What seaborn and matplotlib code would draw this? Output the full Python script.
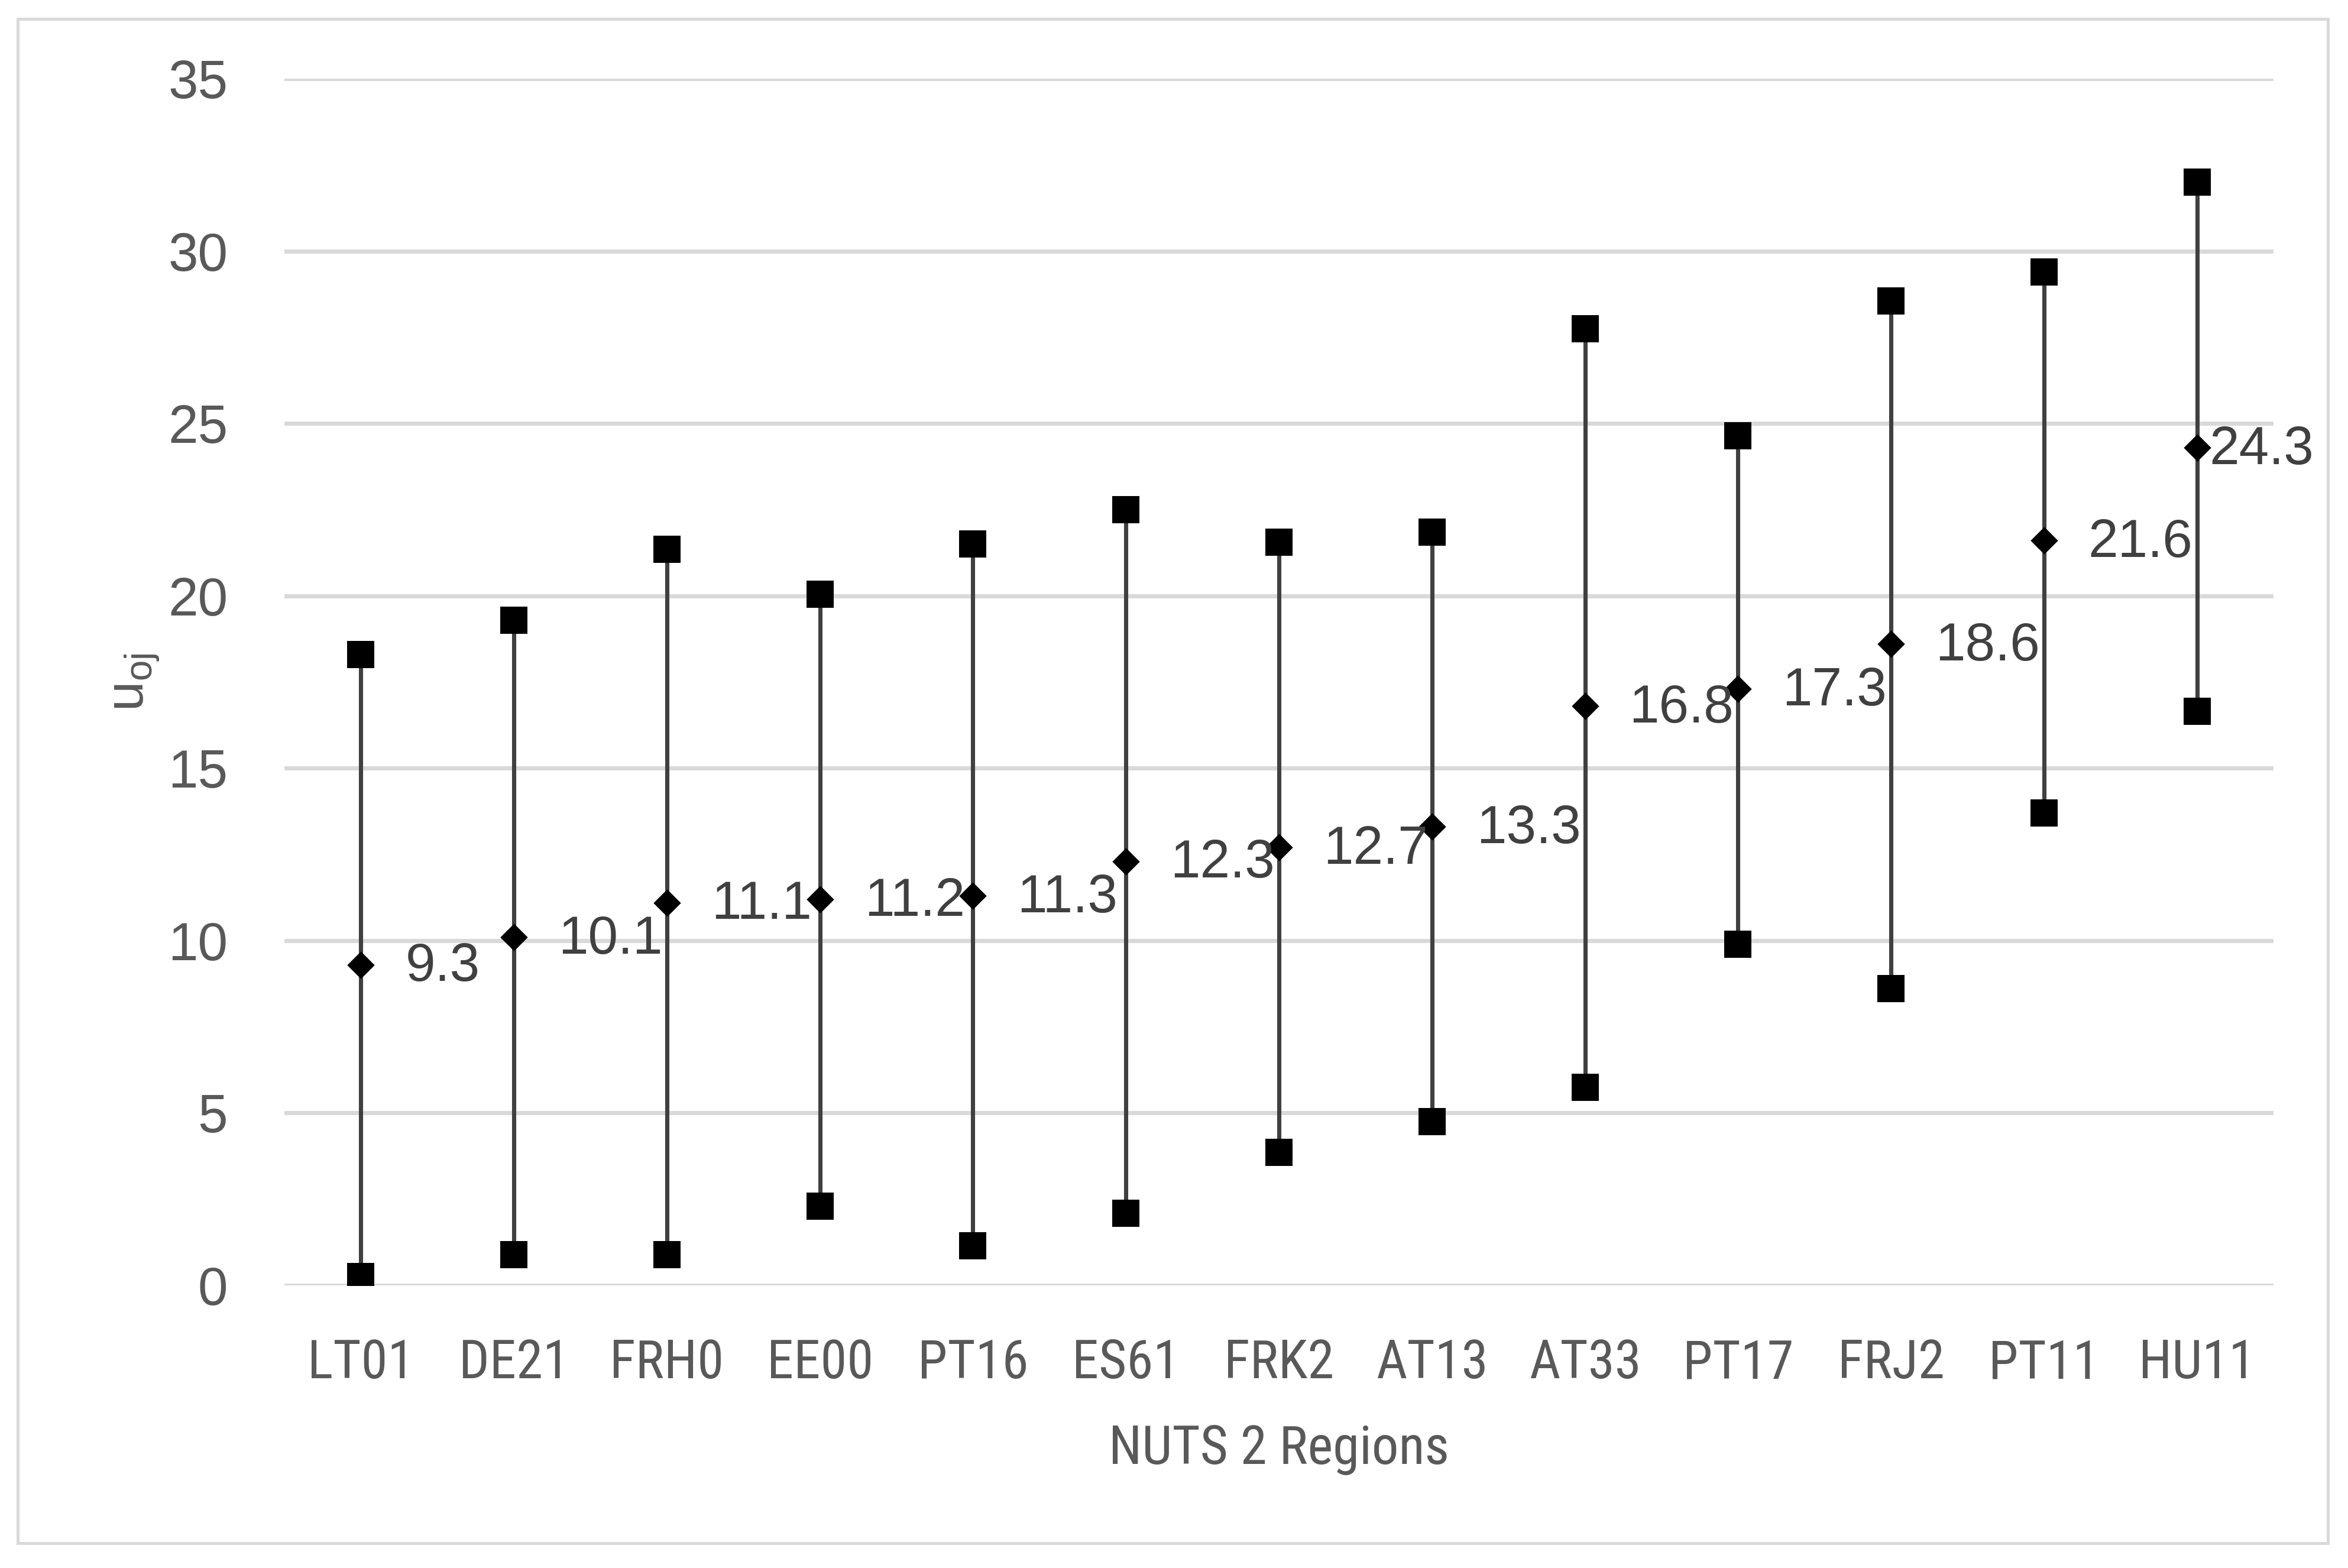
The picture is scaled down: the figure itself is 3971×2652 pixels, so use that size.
import matplotlib
matplotlib.use("Agg")
import matplotlib.pyplot as plt
from matplotlib import font_manager
from matplotlib.font_manager import FontProperties
from matplotlib.patches import Rectangle
import seaborn as sns
import pandas as pd

# ---- data ----
regions = ["LT01", "DE21", "FRH0", "EE00", "PT16", "ES61", "FRK2",
           "AT13", "AT33", "PT17", "FRJ2", "PT11", "HU11"]
upper = [18.3, 19.3, 21.35, 20.05, 21.5, 22.5, 21.55, 21.85, 27.75, 24.65, 28.55, 29.4, 32.0]
lower = [0.25, 0.9, 0.9, 2.3, 1.15, 2.1, 3.85, 4.75, 5.75, 9.9, 8.6, 13.7, 16.65]
mean = [9.3, 10.1, 11.1, 11.2, 11.3, 12.3, 12.7, 13.3, 16.8, 17.3, 18.6, 21.6, 24.3]
yticks = [0, 5, 10, 15, 20, 25, 30, 35]
xlabel = "NUTS 2 Regions"

df = pd.DataFrame({"region": regions, "upper": upper, "lower": lower, "mean": mean})

sns.set_theme(style="white")
ttf = font_manager.fontManager.ttflist
names = {f.name for f in ttf}
base_font = "Liberation Sans" if "Liberation Sans" in names else "DejaVu Sans"
plt.rcParams["font.family"] = [base_font, "DejaVu Sans"]
plt.rcParams["mathtext.fontset"] = "custom"
plt.rcParams["mathtext.rm"] = base_font

FS = 21.8
TICK_C = "#595959"
LABEL_C = "#404040"


def find_narrow():
    prefs = ["LiberationSansNarrow-Regular", "RobotoCondensed-Regular",
             "OpenSans_Condensed-Regular", "NotoSans-Condensed", "DejaVuSansCondensed.ttf"]
    files = [f.fname for f in ttf]
    for p in prefs:
        for fn in files:
            if p.lower() in fn.lower() and "bold" not in fn.lower() and "oblique" not in fn.lower() \
                    and "italic" not in fn.lower():
                return FontProperties(fname=fn, size=FS)
    for f in ttf:
        if f.stretch in ("condensed", "semi-condensed") and f.style == "normal" \
                and f.weight in (400, "normal", "regular"):
            return FontProperties(fname=f.fname, size=FS)
    return FontProperties(family=[base_font], size=FS)


narrow = find_narrow()

fig = plt.figure(figsize=(3971 / 300, 2652 / 300), dpi=300)
ax = fig.add_axes([481 / 3971, 1 - 2174 / 2652, (3845 - 481) / 3971, (2174 - 133) / 2652])

# range lines
xs = list(range(len(regions)))
ax.vlines(xs, df["lower"], df["upper"], color="#404040", lw=1.7, zorder=2)

# markers
sns.scatterplot(data=df, x="region", y="upper", marker="s", s=125, color="black",
                linewidth=0, ax=ax, zorder=3)
sns.scatterplot(data=df, x="region", y="lower", marker="s", s=125, color="black",
                linewidth=0, ax=ax, zorder=3)
sns.scatterplot(data=df, x="region", y="mean", marker="D", s=62, color="black",
                linewidth=0, ax=ax, zorder=4)

# data labels
for i, m in enumerate(mean):
    off = 18 if i < len(mean) - 1 else 5
    ax.annotate(f"{m:.1f}", (i, m), xytext=(off, -1), textcoords="offset points",
                ha="left", va="center", fontsize=FS, color=LABEL_C, zorder=5)

ax.set_xlim(-0.5, len(regions) - 0.5)
ax.set_ylim(0, 35)
ax.set_yticks(yticks)
ax.set_yticklabels([str(t) for t in yticks])
ax.grid(axis="y", color="#D9D9D9", lw=1.7, zorder=0)
ax.grid(axis="x", visible=False)
ax.set_axisbelow(True)
for s in ax.spines.values():
    s.set_visible(False)

ax.tick_params(axis="both", length=0, colors=TICK_C, labelsize=FS)
ax.tick_params(axis="y", pad=23)
ax.tick_params(axis="x", pad=21.4)
for lab in ax.get_xticklabels():
    lab.set_fontproperties(narrow)

ax.set_xlabel(xlabel, color=TICK_C, labelpad=14.4, fontproperties=narrow)
ax.set_ylabel(r"u$_{\mathregular{oj}}$", fontsize=FS, color=TICK_C)
ax.yaxis.set_label_coords((272 - 481) / 3364, 0.5)

# outer chart border
fig.patches.append(Rectangle((30 / 3971, 1 - 2610 / 2652), 3907 / 3971, 2578 / 2652,
                             transform=fig.transFigure, fill=False,
                             edgecolor="#D9D9D9", lw=1.2, zorder=0))

fig.savefig("out.png", dpi=300, facecolor="white")
